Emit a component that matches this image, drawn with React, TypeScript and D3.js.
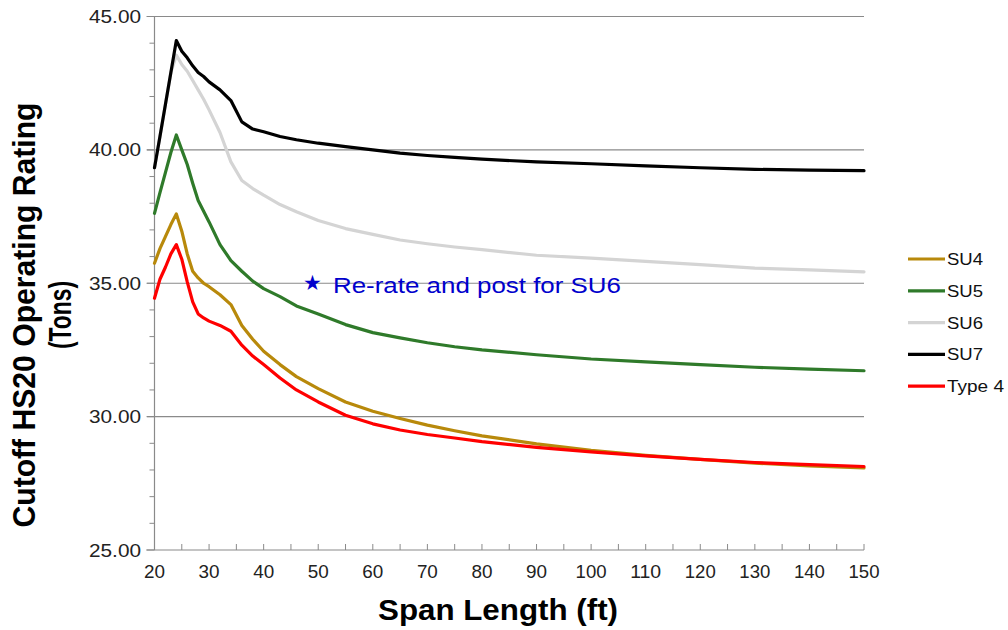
import React from "react";
import * as d3 from "d3";

const spans = [20, 21, 22, 23, 24, 25, 26, 27, 28, 29, 30, 32, 34, 36, 38, 40, 43, 46, 50, 55, 60, 65, 70, 75, 80, 90, 100, 110, 120, 130, 140, 150];

const su4 = [35.75, 36.3, 36.75, 37.2, 37.6, 36.95, 36.1, 35.45, 35.2, 35.0, 34.87, 34.57, 34.2, 33.42, 32.9, 32.45, 31.95, 31.5, 31.05, 30.55, 30.2, 29.93, 29.68, 29.47, 29.28, 28.98, 28.74, 28.55, 28.4, 28.26, 28.15, 28.08];
const su5 = [37.62, 38.4, 39.15, 39.9, 40.56, 40.0, 39.45, 38.75, 38.1, 37.7, 37.3, 36.45, 35.85, 35.45, 35.08, 34.8, 34.5, 34.15, 33.85, 33.45, 33.15, 32.95, 32.77, 32.62, 32.5, 32.32, 32.16, 32.05, 31.95, 31.85, 31.78, 31.72];
const su6 = [39.33, 40.5, 41.7, 42.9, 43.55, 43.2, 42.95, 42.6, 42.25, 41.9, 41.5, 40.65, 39.55, 38.85, 38.55, 38.3, 37.95, 37.68, 37.35, 37.05, 36.83, 36.62, 36.48, 36.36, 36.26, 36.05, 35.94, 35.82, 35.7, 35.57, 35.5, 35.43];
const su7 = [39.33, 40.5, 41.7, 42.9, 44.1, 43.7, 43.45, 43.15, 42.9, 42.75, 42.55, 42.25, 41.85, 41.05, 40.78, 40.68, 40.5, 40.38, 40.25, 40.12, 40.0, 39.88, 39.79, 39.72, 39.65, 39.55, 39.48, 39.4, 39.33, 39.27, 39.24, 39.22];
const type4 = [34.44, 35.15, 35.6, 36.1, 36.45, 35.9, 35.05, 34.3, 33.85, 33.7, 33.58, 33.42, 33.2, 32.68, 32.27, 31.95, 31.45, 31.0, 30.55, 30.05, 29.73, 29.5, 29.33, 29.2, 29.06, 28.85, 28.68, 28.53, 28.4, 28.28, 28.2, 28.13];

const seriesNames = ["SU4", "SU5", "SU6", "SU7", "Type 4"];
const seriesValues = [su4, su5, su6, su7, type4];
const seriesColors = ["#b8890b", "#2f7a2a", "#d4d4d4", "#000000", "#ff0000"];

const xTicks = [20, 30, 40, 50, 60, 70, 80, 90, 100, 110, 120, 130, 140, 150];
const yTicks = [25, 30, 35, 40, 45];
const annotation = "Re-rate and post for SU6";
const annotationPoint = { x: 49, y: 35 };

export default function App() {
  const W = 1008, H = 630;
  const x = d3.scaleLinear().domain([20, 150]).range([154.5, 864]);
  const y = d3.scaleLinear().domain([25, 45]).range([550, 16.5]);
  const line = d3.line<number>().x((_, i) => x(spans[i])).y((d) => y(d));
  const minorX = d3.range(25, 151, 5);
  const minorY = d3.range(25, 45.01, 1);
  const font = "'Liberation Sans', Arial, sans-serif";

  return (
    <svg width={W} height={H} style={{ position: "absolute", left: 0, top: 0, background: "#fff" }} fontFamily={font}>
      {/* gridlines */}
      {yTicks.filter((t) => t > 25).map((t) => (
        <line key={"g" + t} x1={147} x2={864} y1={y(t)} y2={y(t)} stroke="#8a8a8a" strokeWidth={1.2} />
      ))}
      {/* y axis */}
      <line x1={x(20)} x2={x(20)} y1={y(45)} y2={y(25)} stroke="#8a8a8a" strokeWidth={1.2} />
      {minorY.map((t) => (
        <line key={"my" + t} x1={x(20) - (t % 5 === 0 ? 8 : 5)} x2={x(20)} y1={y(t)} y2={y(t)} stroke="#8a8a8a" strokeWidth={1} />
      ))}
      {/* x axis */}
      <line x1={x(20) - 8} x2={864} y1={y(25)} y2={y(25)} stroke="#8a8a8a" strokeWidth={1.2} />
      {minorX.map((t) => (
        <line key={"mx" + t} x1={x(t)} x2={x(t)} y1={y(25) - 6} y2={y(25)} stroke="#8a8a8a" strokeWidth={1} />
      ))}
      {/* y tick labels */}
      {yTicks.map((t) => (
        <text key={"yl" + t} x={141} y={y(t) + 6.5} textAnchor="end" fontSize={18} fill="#222" textLength={52} lengthAdjust="spacingAndGlyphs">
          {t.toFixed(2)}
        </text>
      ))}
      {/* x tick labels */}
      {xTicks.map((t) => (
        <text key={"xl" + t} x={x(t)} y={578} textAnchor="middle" fontSize={19} fill="#222" textLength={t >= 100 ? 31 : 21} lengthAdjust="spacingAndGlyphs">
          {t}
        </text>
      ))}
      {/* series */}
      {seriesValues.map((vals, i) => (
        <path key={seriesNames[i]} d={line(vals) || ""} fill="none" stroke={seriesColors[i]} strokeWidth={3.2} strokeLinejoin="round" strokeLinecap="round" />
      ))}
      {/* annotation */}
      <text x={x(annotationPoint.x)} y={y(annotationPoint.y) + 7} textAnchor="middle" fontSize={21} fill="#0000cc">★</text>
      <text x={333} y={292.5} fontSize={22} fill="#0000cc" textLength={288} lengthAdjust="spacingAndGlyphs">{annotation}</text>
      {/* legend */}
      {seriesNames.map((n, i) => (
        <g key={"lg" + n} transform={`translate(0, ${259 + i * 31.8})`}>
          <line x1={908} x2={945} y1={0} y2={0} stroke={seriesColors[i]} strokeWidth={3.2} />
          <text x={947} y={6} fontSize={16} fill="#111" textLength={n === "Type 4" ? 57 : 36} lengthAdjust="spacingAndGlyphs">{n}</text>
        </g>
      ))}
      {/* axis titles */}
      <text x={498} y={620} textAnchor="middle" fontSize={30} fontWeight="bold" fill="#000" textLength={240} lengthAdjust="spacingAndGlyphs">Span Length (ft)</text>
      <g transform="translate(35, 315) rotate(-90)">
        <text x={0} y={0} textAnchor="middle" fontSize={31} fontWeight="bold" fill="#000" textLength={425} lengthAdjust="spacingAndGlyphs">Cutoff HS20 Operating Rating</text>
        <text x={0} y={36} textAnchor="middle" fontSize={31} fontWeight="bold" fill="#000" textLength={68} lengthAdjust="spacingAndGlyphs">(Tons)</text>
      </g>
    </svg>
  );
}
